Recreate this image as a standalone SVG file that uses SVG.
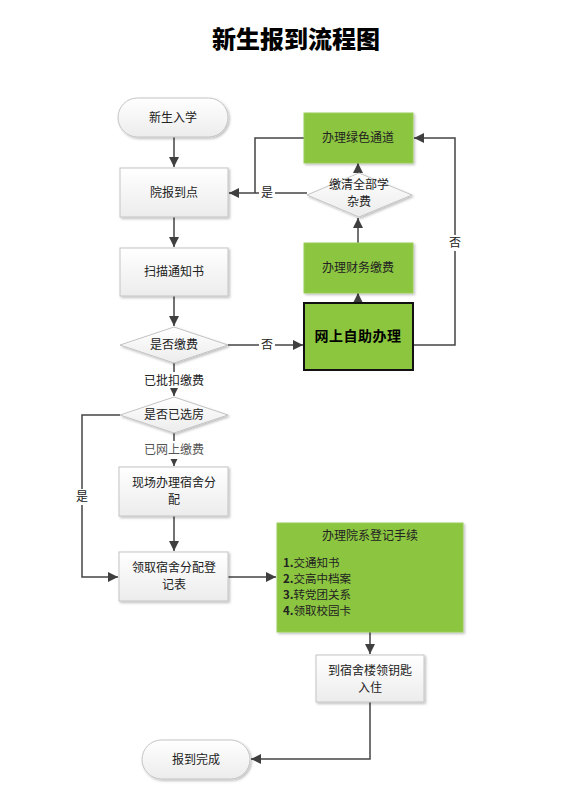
<svg xmlns="http://www.w3.org/2000/svg" width="568" height="804" viewBox="0 0 568 804">
<defs>
<linearGradient id="gg" x1="0" y1="0" x2="0" y2="1">
<stop offset="0" stop-color="#ffffff"/>
<stop offset="1" stop-color="#ececec"/>
</linearGradient>
<filter id="sh" x="-10%" y="-10%" width="130%" height="130%">
<feDropShadow dx="1.5" dy="1.5" stdDeviation="1" flood-color="#000" flood-opacity="0.25"/>
</filter>
<marker id="ar" viewBox="0 0 10 10" refX="10" refY="5" markerWidth="10" markerHeight="10" markerUnits="userSpaceOnUse" orient="auto">
<path d="M0,0 L10,5 L0,10 z" fill="#3f3f3f"/>
</marker>
</defs>
<style>
.g{fill:url(#gg);stroke:#c4c4c4;stroke-width:1;filter:url(#sh)}
.gr{fill:#8cc63f;stroke:#9acd5a;stroke-width:1;filter:url(#sh)}
.t{font-family:"Noto Sans CJK SC","Noto Sans",sans-serif;font-size:12px;fill:#222;text-anchor:middle}
.l{font-family:"Noto Sans CJK SC","Noto Sans",sans-serif;font-size:12px;fill:#222;text-anchor:middle}
.c{fill:none;stroke:#444;stroke-width:1.5}
</style>
<rect width="568" height="804" fill="#fff"/>
<text x="296" y="48" style="font-family:'Noto Sans CJK SC',sans-serif;font-size:24px;font-weight:900;text-anchor:middle;fill:#000">新生报到流程图</text>

<g id="connectors">
<line class="c" x1="174" y1="137" x2="174" y2="167" marker-end="url(#ar)"/>
<line class="c" x1="174" y1="217" x2="174" y2="247" marker-end="url(#ar)"/>
<line class="c" x1="174" y1="296" x2="174" y2="326" marker-end="url(#ar)"/>
<line class="c" x1="228" y1="345" x2="303" y2="345" marker-end="url(#ar)"/>
<line class="c" x1="358" y1="303" x2="358" y2="293" marker-end="url(#ar)"/>
<line class="c" x1="358" y1="243" x2="358" y2="218" marker-end="url(#ar)"/>
<line class="c" x1="358" y1="173" x2="358" y2="163" marker-end="url(#ar)"/>
<line class="c" x1="307" y1="193" x2="229" y2="193" marker-end="url(#ar)"/>
<polyline class="c" points="304,138 255,138 255,193"/>
<polyline class="c" points="413,345 455,345 455,138 414,138" marker-end="url(#ar)"/>
<line class="c" x1="174" y1="363" x2="174" y2="396" marker-end="url(#ar)"/>
<line class="c" x1="174" y1="433" x2="174" y2="466" marker-end="url(#ar)"/>
<line class="c" x1="174" y1="516" x2="174" y2="551" marker-end="url(#ar)"/>
<polyline class="c" points="120,415 82,415 82,577 118,577" marker-end="url(#ar)"/>
<line class="c" x1="228" y1="577" x2="276" y2="577" marker-end="url(#ar)"/>
<line class="c" x1="370" y1="632" x2="370" y2="654" marker-end="url(#ar)"/>
<polyline class="c" points="370,702 370,759 251,759" marker-end="url(#ar)"/>
<rect x="259" y="185" width="16" height="16" fill="#fff"/>
<text class="l" x="267" y="197">是</text>
<rect x="259" y="337" width="16" height="16" fill="#fff"/>
<text class="l" x="267" y="349">否</text>
<rect x="448" y="235" width="14" height="16" fill="#fff"/>
<text class="l" x="455" y="247">否</text>
<rect x="142" y="372" width="64" height="16" fill="#fff"/>
<text class="l" x="174" y="385">已批扣缴费</text>
<rect x="140" y="441" width="68" height="18" fill="#fff"/>
<text class="l" x="174" y="454" style="fill:#555">已网上缴费</text>
<rect x="74" y="489" width="16" height="16" fill="#fff"/>
<text class="l" x="82" y="501">是</text>
</g>

<g id="n1"><rect class="g" x="118" y="98" width="110" height="39" rx="19.5"/><text class="t" x="173" y="122">新生入学</text></g>
<g id="n2"><rect class="g" x="120" y="168" width="108" height="49"/><text class="t" x="174" y="197">院报到点</text></g>
<g id="n3"><rect class="g" x="120" y="248" width="108" height="48"/><text class="t" x="174" y="276">扫描通知书</text></g>
<g id="n4"><polygon class="g" points="174,327 228,345 174,363 120,345"/><text class="t" x="174" y="349">是否缴费</text></g>
<g id="n5"><rect x="304" y="303" width="109" height="67" fill="#8cc63f" stroke="#111" stroke-width="2"/><text x="358" y="341" style="font-family:'Noto Sans CJK SC',sans-serif;font-size:14px;font-weight:700;text-anchor:middle;fill:#000;letter-spacing:0.5px">网上自助办理</text></g>
<g id="n6"><rect class="gr" x="304" y="243" width="109" height="50"/><text class="t" x="358" y="272">办理财务缴费</text></g>
<g id="n7"><polygon class="g" points="359,173 412,195 359,217 307,195"/><text class="t" x="359" y="189">缴清全部学</text><text class="t" x="359" y="206">杂费</text></g>
<g id="n8"><rect class="gr" x="304" y="113" width="109" height="50"/><text class="t" x="358" y="142">办理绿色通道</text></g>
<g id="n9"><polygon class="g" points="174,397 228,415 174,433 120,415"/><text class="t" x="174" y="419">是否已选房</text></g>
<g id="n10"><rect class="g" x="119" y="467" width="109" height="49"/><text class="t" x="174" y="487">现场办理宿舍分</text><text class="t" x="174" y="504">配</text></g>
<g id="n11"><rect class="g" x="119" y="552" width="109" height="49"/><text class="t" x="174" y="572">领取宿舍分配登</text><text class="t" x="174" y="589">记表</text></g>
<g id="n12"><rect class="gr" x="277" y="523" width="186" height="109"/>
<text class="t" x="370" y="540">办理院系登记手续</text>
<g style="font-family:'Noto Sans CJK SC',sans-serif;font-size:11.5px;fill:#222">
<text x="283" y="567"><tspan font-weight="700">1.</tspan>交通知书</text>
<text x="283" y="583"><tspan font-weight="700">2.</tspan>交高中档案</text>
<text x="283" y="599"><tspan font-weight="700">3.</tspan>转党团关系</text>
<text x="283" y="615"><tspan font-weight="700">4.</tspan>领取校园卡</text>
</g></g>
<g id="n13"><rect class="g" x="316" y="655" width="108" height="47"/><text class="t" x="370" y="675">到宿舍楼领钥匙</text><text class="t" x="370" y="692">入住</text></g>
<g id="n14"><rect class="g" x="142" y="740" width="108" height="39" rx="19.5"/><text class="t" x="196" y="764">报到完成</text></g>
</svg>
